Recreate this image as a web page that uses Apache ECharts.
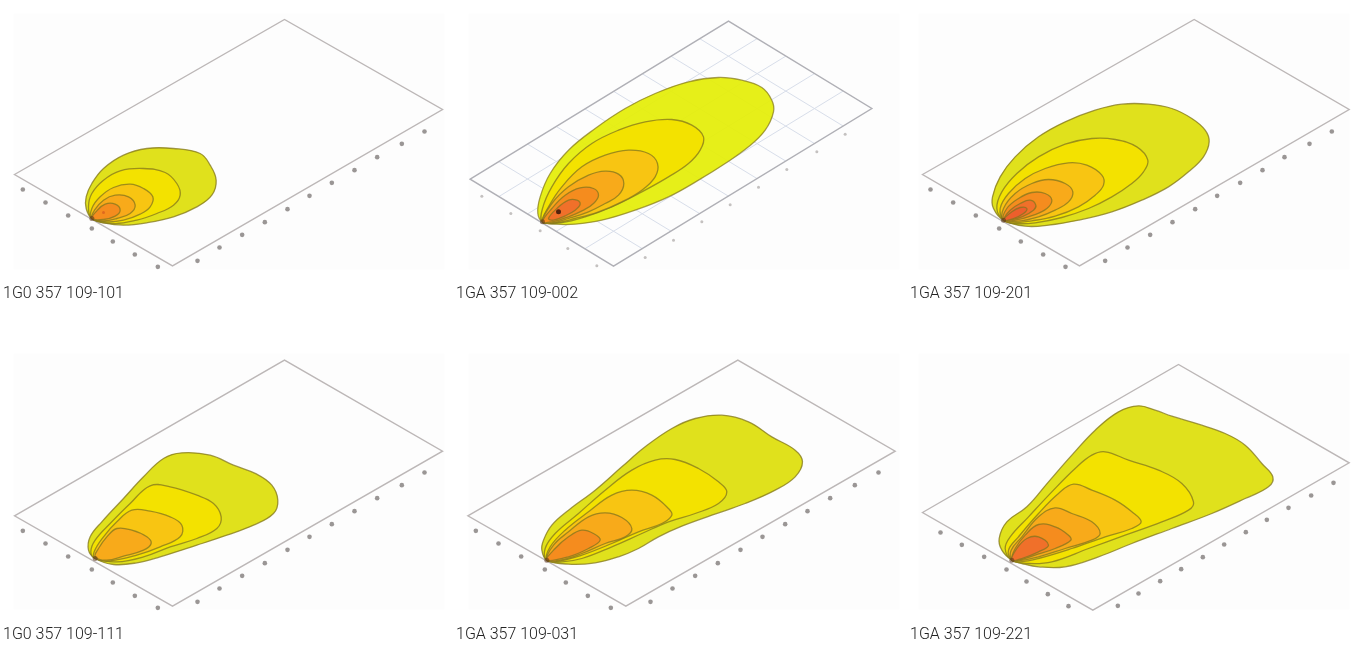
<!DOCTYPE html>
<html><head><meta charset="utf-8">
<style>html,body{margin:0;padding:0;background:#fff}#c{width:1363px;height:648px}</style>
<script src="https://cdn.jsdelivr.net/npm/echarts@6/dist/echarts.min.js"></script>
</head><body><div id="c"></div>
<script>
const labels = ['1G0 357 109-101','1GA 357 109-002','1GA 357 109-201','1G0 357 109-111','1GA 357 109-031','1GA 357 109-221'];
const levelColors = ['#e0e11c','#f3e200','#f8c512','#f8aa1a','#f58c1e','#f0702a','#ec5f2c'];

const frame1 = [[43,523],[853,58],[1327,328],[517,797]];
const frame2 = [[45,537],[820,63],[1250,325],[475,798]];
const frame3 = [[52,523],[867,58],[1332,328],[523,797]];
const frame4 = [[43,527],[853,60],[1327,333],[517,798]];
const frame5 = [[38,527],[848,60],[1320,333],[512,798]];
const frame6 = [[52,517],[820,73],[1332,368],[563,810]];

const ticks1 = [[68,568],[136,607],[204,646],[275,685],[338,724],[404,763],[473,800],[592,782],[658,742],[726,704],[794,666],[862,627],[928,587],[995,548],[1063,510],[1131,471],[1205,431],[1273,394]];
const ticks2 = [[80,588],[167,640],[255,692],[338,745],[425,797],[570,772],[655,720],[740,665],[825,614],[910,561],[995,508],[1085,455],[1170,402]];
const ticks3 = [[76,568],[144,607],[212,646],[282,685],[347,724],[414,763],[481,800],[600,782],[667,742],[735,704],[802,666],[870,627],[936,587],[1005,548],[1072,510],[1138,471],[1213,431],[1280,394]];
const ticks4 = [[68,572],[136,610],[204,649],[275,688],[338,727],[404,767],[473,803],[592,785],[658,745],[726,707],[794,669],[862,629],[928,590],[995,552],[1063,513],[1131,474],[1205,435],[1273,397]];
const ticks5 = [[62,572],[130,610],[198,649],[269,688],[332,727],[398,767],[467,803],[586,785],[652,745],[720,707],[788,669],[856,629],[922,590],[990,552],[1057,513],[1125,474],[1199,435],[1270,397]];
const ticks6 = [[106,577],[170,614],[237,650],[304,688],[364,724],[428,762],[490,798],[638,797],[700,760],[765,723],[828,687],[893,651],[957,613],[1022,576],[1085,539],[1150,503],[1218,466],[1285,428]];

const contours1 = [
 [[275,655],[258,625],[258,590],[275,550],[310,505],[370,465],[440,445],[520,445],[600,460],[630,495],[648,540],[635,585],[590,620],[520,650],[440,668],[370,675],[310,668]],
 [[275,655],[265,620],[275,580],[310,540],[360,512],[430,505],[495,517],[530,550],[540,585],[520,615],[470,640],[410,660],[340,670]],
 [[275,655],[275,625],[300,590],[340,562],[390,552],[430,565],[458,590],[450,620],[420,642],[370,660],[320,665]],
 [[275,655],[283,630],[310,600],[345,585],[385,590],[405,615],[390,640],[350,655],[310,662]],
 [[275,655],[290,632],[315,612],[345,612],[360,630],[345,648],[310,658]]
];
const contours2 = [
 [[262,665],[248,640],[255,590],[285,520],[340,450],[420,385],[510,325],[600,280],[700,245],[790,232],[860,240],[920,262],[950,300],[955,335],[930,390],[880,440],[810,490],[730,540],[640,590],[540,630],[440,660],[360,672],[300,672]],
 [[262,665],[262,625],[290,560],[340,490],[410,430],[490,390],[570,365],[650,358],[710,375],[745,410],[735,450],[700,490],[640,530],[560,575],[470,620],[390,650],[320,667]],
 [[262,665],[280,620],[320,560],[380,500],[450,465],[520,450],[580,460],[607,490],[600,530],[560,570],[500,605],[430,635],[360,655],[300,668]],
 [[262,665],[290,610],[340,560],[400,525],[450,513],[490,522],[506,550],[490,585],[450,610],[400,635],[340,655],[290,668]],
 [[262,665],[290,625],[330,585],[375,563],[415,565],[430,585],[415,610],[385,630],[340,650],[290,665]],
 [[280,655],[305,625],[340,600],[365,600],[375,612],[360,630],[330,647],[295,660]]
];
const contours3 = [
 [[295,660],[265,625],[262,590],[285,530],[330,470],[400,410],[480,365],[570,330],[650,312],[730,312],[800,325],[860,355],[900,390],[912,425],[895,470],[850,515],[790,560],[710,600],[620,635],[520,660],[430,675],[360,678]],
 [[295,660],[275,625],[290,575],[335,520],[400,470],[480,432],[560,415],[630,418],[695,440],[728,480],[715,515],[680,550],[620,590],[550,625],[470,652],[390,668],[330,670]],
 [[295,660],[285,625],[310,580],[360,535],[420,505],[490,488],[545,495],[590,525],[595,555],[570,585],[520,620],[450,648],[380,662],[320,668]],
 [[295,660],[295,625],[330,580],[380,550],[430,538],[480,550],[503,575],[490,605],[450,630],[400,650],[340,663]],
 [[295,660],[305,625],[340,595],[380,577],[420,580],[440,600],[425,625],[385,645],[330,660]],
 [[295,660],[315,630],[345,610],[375,600],[392,615],[385,630],[350,650],[310,660]],
 [[295,660],[320,635],[345,622],[365,625],[355,640],[325,655]]
];
const contours4 = [
 [[285,655],[265,630],[270,590],[305,545],[370,475],[430,410],[490,355],[545,338],[630,345],[700,375],[770,402],[815,435],[833,480],[820,520],[760,555],[680,585],[590,615],[480,650],[410,668],[340,673]],
 [[285,655],[272,635],[285,600],[330,550],[390,490],[450,437],[510,440],[590,465],[640,490],[663,530],[650,565],[590,595],[510,620],[430,650],[350,665]],
 [[285,655],[282,635],[310,590],[350,545],[395,510],[450,513],[510,530],[545,555],[540,590],[480,620],[410,645],[330,662]],
 [[285,650],[295,625],[320,590],[350,565],[395,570],[440,590],[453,610],[430,630],[370,648],[320,660]]
];
const contours5 = [
 [[275,660],[260,630],[265,600],[290,555],[340,510],[420,450],[500,380],[570,320],[650,265],[720,235],[800,225],[880,245],[950,290],[1020,330],[1042,365],[1020,410],[960,450],[870,490],[770,525],[680,558],[610,590],[550,625],[490,650],[420,668],[340,672]],
 [[275,660],[270,625],[300,580],[370,520],[450,450],[530,390],[600,360],[660,358],[730,385],[790,425],[815,455],[790,490],[720,520],[640,545],[560,580],[470,620],[380,655],[320,665]],
 [[275,660],[285,620],[330,570],[400,515],[470,465],[530,450],[590,465],[640,505],[650,525],[620,550],[550,575],[470,610],[380,645],[315,662]],
 [[275,660],[295,615],[340,575],[400,530],[450,518],[500,532],[530,565],[510,590],[450,610],[380,640],[315,660]],
 [[275,660],[300,625],[340,590],[380,570],[415,580],[435,600],[400,625],[340,650]]
];
const contours6 = [
 [[320,660],[290,630],[282,595],[305,545],[365,500],[430,425],[500,345],[570,270],[640,215],[700,197],[750,210],[800,228],[880,252],[960,280],[1020,315],[1070,370],[1103,410],[1090,440],[1020,475],[920,520],[800,565],[680,610],[580,650],[480,680],[400,680],[350,670]],
 [[320,660],[300,625],[315,590],[370,530],[440,455],[510,385],[560,345],[600,335],[670,360],[760,390],[830,430],[865,485],[850,510],[770,545],[660,585],[550,625],[440,665],[370,670]],
 [[320,660],[310,630],[340,590],[400,520],[460,460],[505,432],[560,450],[630,480],[680,515],[708,545],[680,565],[600,590],[500,625],[400,655],[345,665]],
 [[320,660],[318,630],[350,590],[400,530],[450,503],[500,520],[560,545],[585,580],[560,600],[480,625],[400,650],[340,662]],
 [[320,660],[330,625],[360,585],[400,553],[450,560],[490,585],[497,600],[450,625],[390,645],[340,660]],
 [[320,660],[335,625],[365,595],[400,590],[430,615],[400,635],[350,655]]
];
const origins = [[275,655],[262,665],[295,660],[285,655],[275,660],[320,660]];
const hotSpots = [[310,637],[310,635],null,null,null,null];

const frames = [frame1,frame2,frame3,frame4,frame5,frame6];
const ticks = [ticks1,ticks2,ticks3,ticks4,ticks5,ticks6];
const contours = [contours1,contours2,contours3,contours4,contours5,contours6];
// reference-grid divisions of the one panel that shows a grid (panel index 1)
const gridPanel = 1, gridLong = 9, gridShort = 5;
const panelX = [0,455,905,0,455,905], panelY = [0,0,0,340,340,340];
const labelX = [3,456,910,3,456,910], labelY = [286,286,286,627,627,627];

const grids=[],xAxes=[],yAxes=[],series=[],titles=[];
const polySeries=(i,pts,style,z,closed)=>({
  type:'custom',xAxisIndex:i,yAxisIndex:i,data:pts,z,silent:true,clip:false,
  encode:{x:0,y:1},
  renderItem(p,api){
    if(p.dataIndex!==0) return null;
    return {type:closed?'polygon':'polyline',
      shape:{points:pts.map(q=>api.coord(q)),smooth:style.smooth||0},
      style:style.style};
  }
});
labels.forEach((t,i)=>{
  grids.push({left:panelX[i]+13.5,top:panelY[i]+13.5,width:431,height:256,show:true,
    backgroundColor:'#fdfdfd',borderWidth:0});
  xAxes.push({type:'value',gridIndex:i,min:40,max:1333,show:false});
  yAxes.push({type:'value',gridIndex:i,min:40,max:808,inverse:true,show:false});
  titles.push({text:t,left:labelX[i],top:labelY[i],padding:0,
    textStyle:{fontFamily:'Roboto',fontWeight:300,fontSize:16,color:'#222'}});
  const f=frames[i];
  if(i===gridPanel){
    for(let k=1;k<gridLong;k++){
      const a=[f[3][0]+(f[2][0]-f[3][0])*k/gridLong,f[3][1]+(f[2][1]-f[3][1])*k/gridLong];
      const b=[f[0][0]+(f[1][0]-f[0][0])*k/gridLong,f[0][1]+(f[1][1]-f[0][1])*k/gridLong];
      series.push(polySeries(i,[a,b],{style:{fill:null,stroke:'#d8deea',lineWidth:1}},1,false));
    }
    for(let k=1;k<gridShort;k++){
      const a=[f[0][0]+(f[3][0]-f[0][0])*k/gridShort,f[0][1]+(f[3][1]-f[0][1])*k/gridShort];
      const b=[f[1][0]+(f[2][0]-f[1][0])*k/gridShort,f[1][1]+(f[2][1]-f[1][1])*k/gridShort];
      series.push(polySeries(i,[a,b],{style:{fill:null,stroke:'#d8deea',lineWidth:1}},1,false));
    }
  }
  series.push(polySeries(i,f,{style:{fill:null,stroke:i===gridPanel?'#b0b0b6':'#bcb7b7',lineWidth:1.4}},2,true));
  series.push({type:'scatter',xAxisIndex:i,yAxisIndex:i,data:ticks[i],symbolSize:i===gridPanel?3:4.6,
    itemStyle:{color:i===gridPanel?'#b5b2b0':'#817c7a'},z:2,silent:true,clip:true});
  contours[i].forEach((c,l)=>{
    series.push(polySeries(i,c,{smooth:0.4,style:{
      fill:(i===gridPanel&&l===0)?'#e4ee08':levelColors[l],
      opacity:(i===gridPanel&&l===0)?0.93:1,
      stroke:'rgba(130,118,30,0.75)',lineWidth:1.3}},3+l,true));
  });
  series.push({type:'scatter',xAxisIndex:i,yAxisIndex:i,data:[origins[i]],symbolSize:5,
    itemStyle:{color:'rgba(90,50,25,0.7)'},z:12,silent:true});
  if(hotSpots[i]) series.push({type:'scatter',xAxisIndex:i,yAxisIndex:i,data:[hotSpots[i]],
    symbolSize:i===gridPanel?5:3,itemStyle:{color:i===gridPanel?'#2a0f08':'#d8601f'},z:12,silent:true});
});
const chart=echarts.init(document.getElementById('c'),null,{renderer:'canvas'});
chart.setOption({animation:false,backgroundColor:'#fff',title:titles,grid:grids,xAxis:xAxes,yAxis:yAxes,series,tooltip:{show:false}});
</script></body></html>
